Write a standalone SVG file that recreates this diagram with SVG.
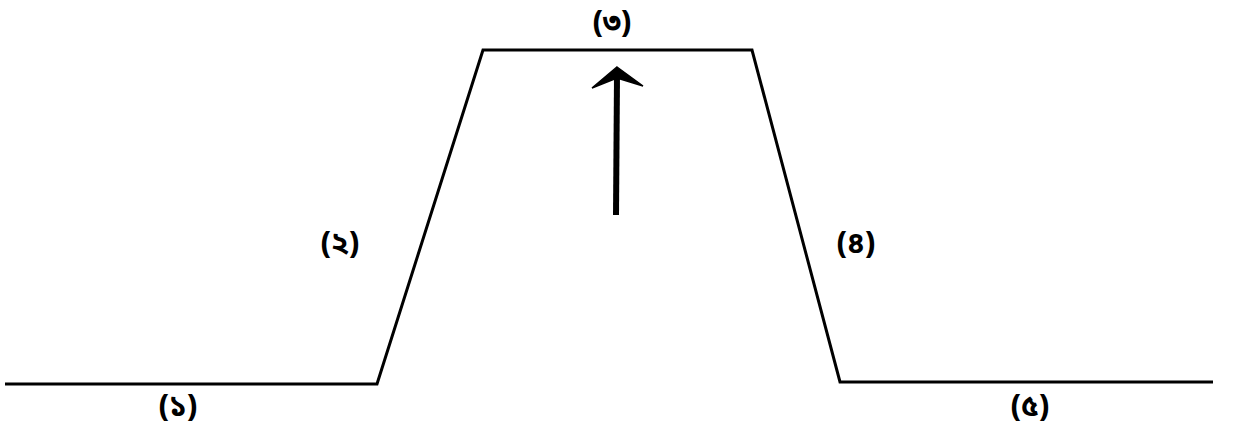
<svg xmlns="http://www.w3.org/2000/svg" width="1235" height="430" viewBox="0 0 1235 430">
<style>
.ln{fill:none;stroke:#000;stroke-width:3;stroke-linejoin:miter}
.lb{font-family:"Noto Sans Bengali","Noto Serif Bengali","Lohit Bengali","FreeSerif","Noto Sans",sans-serif;font-size:30px;font-weight:bold;fill:#000;text-anchor:middle}
</style>
<rect width="1235" height="430" fill="#fff"/>
<g id="profile">
<polyline class="ln" points="5,384 377,384 483,50 752,50 840,382 1213,382"/>
</g>
<g id="connectors">
<line x1="616" y1="215" x2="617" y2="76" stroke="#000" stroke-width="6"/>
<polygon points="617,67 643,86 617,78 592,88" fill="#000" stroke="#000" stroke-width="1.5" stroke-linejoin="miter"/>
</g>
<g id="label1"><text class="lb" x="178" y="416">(১)</text></g>
<g id="label2"><text class="lb" x="340" y="253">(২)</text></g>
<g id="label3"><text class="lb" x="612" y="32">(৩)</text></g>
<g id="label4"><text class="lb" x="856" y="253">(৪)</text></g>
<g id="label5"><text class="lb" x="1030" y="416">(৫)</text></g>
</svg>
